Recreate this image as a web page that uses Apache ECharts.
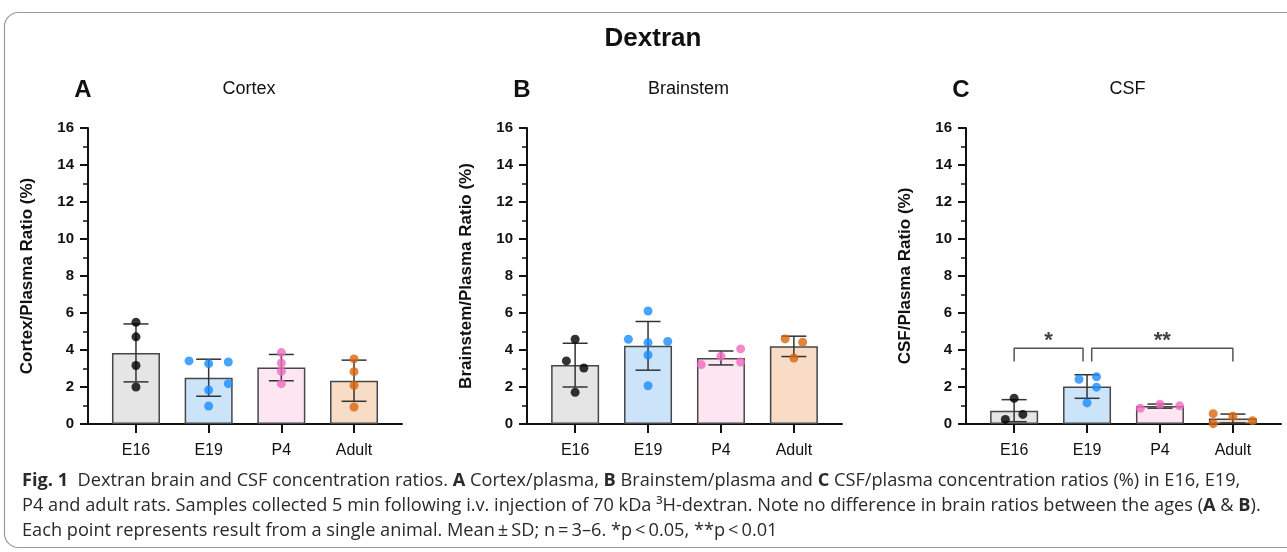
<!DOCTYPE html>
<html>
<head>
<meta charset="utf-8">
<script src="https://cdn.jsdelivr.net/npm/echarts@6.0.0/dist/echarts.min.js"></script>
<style>
html, body { margin: 0; padding: 0; background: #fff; }
#main { width: 1287px; height: 552px; }
</style>
</head>
<body>
<div id="main"></div>
<script>
var myChart = echarts.init(document.getElementById('main'));

// Age groups and individual animal values (%)
const groups = ['E16', 'E19', 'P4', 'Adult'];
const cortex = [[5.50, 4.71, 3.16, 2.00], [3.41, 3.26, 3.35, 1.84, 2.18, 0.97], [3.86, 3.30, 2.85, 2.18], [3.52, 2.83, 2.09, 0.92]];
const brainstem = [[4.58, 3.41, 3.03, 1.71], [6.11, 4.58, 4.40, 4.46, 3.73, 2.07], [3.21, 3.66, 4.06, 3.35], [4.60, 4.42, 3.57]];
const csf = [[1.39, 0.52, 0.25], [2.42, 2.55, 1.99, 1.14], [0.85, 1.07, 0.98], [0.56, 0.42, 0.02, 0.18]];
// horizontal spread of the dots inside each group (category units)
const cortexJitter = [[0, 0, 0, 0], [-0.27, 0, 0.27, 0, 0.27, 0], [0, 0, 0, 0], [0, 0, 0, 0]];
const brainstemJitter = [[0, -0.12, 0.12, 0], [0, -0.27, 0, 0.27, 0, 0], [-0.27, 0, 0.27, 0.27], [-0.12, 0.12, 0]];
const csfJitter = [[0, 0.12, -0.12], [-0.11, 0.13, 0.13, 0], [-0.27, 0, 0.27], [-0.27, 0, -0.27, 0.27]];
// significance brackets in panel C
const brackets = [
  { from: 0, to: 0.945, y: 4.1, label: '*' },
  { from: 1.064, to: 3, y: 4.1, label: '**' }
];
const bracketDrop = 0.72;
const yTicks = { min: 0, max: 16, interval: 2 };

const barColors = ['#e5e5e5', '#cce4fa', '#fde6f2', '#f8dcc5'];
const dotColors = ['#000000', '#1a8cff', '#f06cc0', '#d9650c'];
const font = 'Liberation Sans, Arial, sans-serif';

function mean(a) {
  return a.reduce((s, v) => s + v, 0) / a.length;
}
function sd(a) {
  const m = mean(a);
  return Math.sqrt(a.reduce((s, v) => s + (v - m) * (v - m), 0) / (a.length - 1));
}

const panels = [
  { letter: 'A', title: 'Cortex', yName: 'Cortex/Plasma Ratio (%)', values: cortex, jitter: cortexJitter, left: 88, width: 314 },
  { letter: 'B', title: 'Brainstem', yName: 'Brainstem/Plasma Ratio (%)', values: brainstem, jitter: brainstemJitter, left: 527, width: 315 },
  { letter: 'C', title: 'CSF', yName: 'CSF/Plasma Ratio (%)', values: csf, jitter: csfJitter, left: 966, width: 315 }
];

const grids = [], xAxes = [], yAxes = [], series = [], graphics = [];

// rounded frame around the figure
graphics.push({
  type: 'rect', shape: { x: 4.5, y: 12.5, width: 1300, height: 535, r: 14 },
  style: { fill: 'none', stroke: '#9a9a9a', lineWidth: 1.2 }, silent: true
});
graphics.push({
  type: 'text', x: 653, y: 39,
  style: { text: 'Dextran', align: 'center', verticalAlign: 'middle', fontSize: 26, fontWeight: 'bold', fontFamily: font, fill: '#111' }
});

panels.forEach(function (p, i) {
  grids.push({ left: p.left, top: 128, width: p.width, height: 296 });
  xAxes.push({
    type: 'value', gridIndex: i, min: -0.66, max: 3.66,
    splitLine: { show: false },
    axisLine: { lineStyle: { color: '#111', width: 2 } },
    axisTick: { customValues: [0, 1, 2, 3], length: 9, lineStyle: { color: '#111', width: 2 } },
    axisLabel: {
      customValues: [0, 1, 2, 3], formatter: v => groups[Math.round(v)],
      fontSize: 16, fontFamily: font, color: '#111', margin: 19
    }
  });
  yAxes.push({
    type: 'value', gridIndex: i, min: yTicks.min, max: yTicks.max, interval: yTicks.interval,
    name: p.yName, nameLocation: 'middle', nameGap: 52,
    nameTextStyle: { fontSize: 17, fontWeight: 'bold', fontFamily: font, color: '#111' },
    splitLine: { show: false },
    axisLine: { show: true, onZero: false, lineStyle: { color: '#111', width: 2 } },
    axisTick: { show: true, length: 8, lineStyle: { color: '#111', width: 2 } },
    minorTick: { show: true, splitNumber: 2, length: 5, lineStyle: { color: '#111', width: 1.5 } },
    axisLabel: { fontSize: 15, fontWeight: 'bold', fontFamily: font, color: '#111', margin: 14 }
  });

  series.push({
    type: 'bar', xAxisIndex: i, yAxisIndex: i, barWidth: 48, z: 2, silent: true,
    itemStyle: { borderColor: '#474747', borderWidth: 1.5 },
    data: p.values.map((v, k) => ({ value: [k, mean(v)], itemStyle: { color: barColors[k] } }))
  });
  series.push({
    type: 'custom', xAxisIndex: i, yAxisIndex: i, z: 3, silent: true,
    encode: { x: 0, y: [1, 2] },
    data: p.values.map((v, k) => [k, mean(v) - sd(v), mean(v) + sd(v)]),
    renderItem: function (params, api) {
      const x = api.value(0);
      const top = api.coord([x, api.value(2)]);
      const bot = api.coord([x, api.value(1)]);
      const w = 12.5;
      const st = { stroke: '#333', lineWidth: 1.5 };
      return {
        type: 'group', children: [
          { type: 'line', shape: { x1: top[0], y1: top[1], x2: bot[0], y2: bot[1] }, style: st },
          { type: 'line', shape: { x1: top[0] - w, y1: top[1], x2: top[0] + w, y2: top[1] }, style: st },
          { type: 'line', shape: { x1: bot[0] - w, y1: bot[1], x2: bot[0] + w, y2: bot[1] }, style: st }
        ]
      };
    }
  });
  const dots = [];
  p.values.forEach(function (v, k) {
    v.forEach(function (val, j) {
      dots.push({ value: [k + p.jitter[k][j], val], itemStyle: { color: dotColors[k] } });
    });
  });
  series.push({
    type: 'scatter', xAxisIndex: i, yAxisIndex: i, z: 4, silent: true,
    symbolSize: 9, data: dots
  });

  const cx = p.left + p.width * (0.66 + 1.5) / 4.32;
  graphics.push({
    type: 'text', x: p.left - 5, y: 90,
    style: { text: p.letter, align: 'center', verticalAlign: 'middle', fontSize: 24, fontWeight: 'bold', fontFamily: font, fill: '#111' }
  });
  graphics.push({
    type: 'text', x: cx + 4, y: 89,
    style: { text: p.title, align: 'center', verticalAlign: 'middle', fontSize: 18, fontFamily: font, fill: '#111' }
  });
});

// brackets and stars on panel C
brackets.forEach(function (b) {
  series.push({
    type: 'line', xAxisIndex: 2, yAxisIndex: 2, z: 5, silent: true, symbol: 'none',
    lineStyle: { color: '#555', width: 1.5 },
    data: [[b.from, b.y - bracketDrop], [b.from, b.y], [b.to, b.y], [b.to, b.y - bracketDrop]]
  });
  series.push({
    type: 'scatter', xAxisIndex: 2, yAxisIndex: 2, z: 5, silent: true, symbolSize: 0,
    data: [[(b.from + b.to) / 2, b.y]],
    label: { show: true, position: 'top', distance: -4, formatter: b.label, fontSize: 22, fontWeight: 'bold', fontFamily: font, color: '#111' }
  });
});

// figure caption
const capFont = 'Open Sans, Noto Sans, sans-serif';
const capSize = 18.2;
const capRich = { b: { fontWeight: 'bold', fontSize: capSize, fontFamily: capFont, fill: '#2a2a2a' } };
const caption = [
  '{b|Fig. 1}  Dextran brain and CSF concentration ratios. {b|A} Cortex/plasma, {b|B} Brainstem/plasma and {b|C} CSF/plasma concentration ratios (%) in E16, E19,',
  'P4 and adult rats. Samples collected 5 min following i.v. injection of 70 kDa \u00b3H-dextran. Note no difference in brain ratios between the ages ({b|A} & {b|B}).',
  'Each point represents result from a single animal. Mean\u2009\u00b1\u2009SD; n\u2009=\u20093\u20136. *p\u2009<\u20090.05, **p\u2009<\u20090.01'
];
caption.forEach(function (line, k) {
  graphics.push({
    type: 'text', x: 22, y: 481 + k * 25,
    style: { text: line, rich: capRich, align: 'left', verticalAlign: 'middle', fontSize: capSize, fontFamily: capFont, fill: '#2a2a2a' }
  });
});

var option = {
  animation: false,
  grid: grids,
  xAxis: xAxes,
  yAxis: yAxes,
  series: series,
  graphic: graphics
};

myChart.setOption(option);
</script>
</body>
</html>
